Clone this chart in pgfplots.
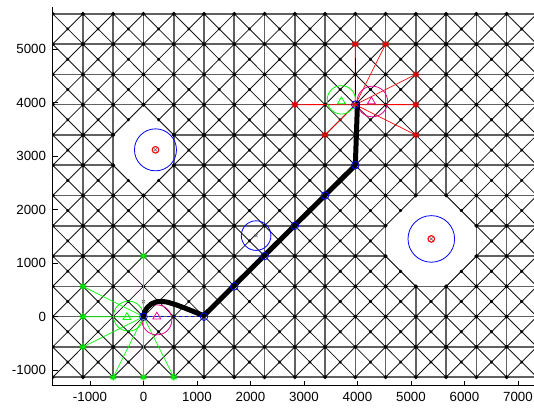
\documentclass[border=0pt]{standalone}
\usepackage{fontspec}
\setmainfont{Liberation Sans}
\usepackage{pgfplots}
\pgfplotsset{compat=1.18}
\pgfplotsset{
  hv/.style={no markers, line width=1.6pt, color=black!62},
  dg/.style={no markers, line width=0.85pt, color=black!92},
  mainnode/.style={only marks, mark=*, mark size=1.8pt, color=black},
  cennode/.style={only marks, mark=*, mark size=1.3pt, color=black},
}
\begin{document}
\begin{tikzpicture}
\begin{axis}[
  scale only axis, width=481.3pt, height=379pt,
  xmin=-1697.06, xmax=7300, ymin=-1290, ymax=5790,
  axis x line*=bottom, axis y line*=left,
  axis line style={black, line width=0.8pt},
  axis on top=true,
  clip marker paths=true,
  xtick={-1000,0,1000,2000,3000,4000,5000,6000,7000},
  ytick={-1000,0,1000,2000,3000,4000,5000},
  xticklabels={-1000,0,1000,2000,3000,4000,5000,6000,7000},
  yticklabels={-1000,0,1000,2000,3000,4000,5000},
  tick align=inside, major tick length=5pt,
  tick style={black, line width=0.6pt},
  ticklabel style={font=\fontsize{13.3}{15}\selectfont},
  xticklabel style={inner sep=0pt, anchor=north, yshift=-6.5pt},
  yticklabel style={inner sep=0pt, anchor=east, xshift=-6.5pt},
  unbounded coords=jump,
]
% ---- grid: horizontal and vertical lines
\pgfplotsinvokeforeach{-1131.37,-565.69,0,565.69,1131.37,1697.06,2262.74,2828.43,3394.11,3959.80,4525.48,5091.17,5656.85}{
  \addplot[hv] coordinates {(-1697.06,#1) (7353.91,#1)};
}
\pgfplotsinvokeforeach{-1697.06,-1131.37,-565.69,0,565.69,1131.37,1697.06,2262.74,2828.43,3394.11,3959.80,4525.48,5091.17,5656.85,6222.54,6788.23,7353.91}{
  \addplot[hv] coordinates {(#1,-1131.37) (#1,5656.85)};
}
% ---- grid: diagonals x-y = const
\addplot[dg] coordinates {
(-1697.06,5091.17) (-1131.37,5656.85) (nan,nan)
(-1697.06,4525.48) (-565.69,5656.85) (nan,nan)
(-1697.06,3959.80) (0,5656.85) (nan,nan)
(-1697.06,3394.11) (565.69,5656.85) (nan,nan)
(-1697.06,2828.43) (1131.37,5656.85) (nan,nan)
(-1697.06,2262.74) (1697.06,5656.85) (nan,nan)
(-1697.06,1697.06) (2262.74,5656.85) (nan,nan)
(-1697.06,1131.37) (2828.43,5656.85) (nan,nan)
(-1697.06,565.69) (3394.11,5656.85) (nan,nan)
(-1697.06,0) (3959.80,5656.85) (nan,nan)
(-1697.06,-565.69) (4525.48,5656.85) (nan,nan)
(-1697.06,-1131.37) (5091.17,5656.85) (nan,nan)
(-1131.37,-1131.37) (5656.85,5656.85) (nan,nan)
(-565.69,-1131.37) (6222.54,5656.85) (nan,nan)
(0,-1131.37) (6788.23,5656.85) (nan,nan)
(565.69,-1131.37) (7353.91,5656.85) (nan,nan)
(1131.37,-1131.37) (7353.91,5091.17) (nan,nan)
(1697.06,-1131.37) (7353.91,4525.48) (nan,nan)
(2262.74,-1131.37) (7353.91,3959.80) (nan,nan)
(2828.43,-1131.37) (7353.91,3394.11) (nan,nan)
(3394.11,-1131.37) (7353.91,2828.43) (nan,nan)
(3959.80,-1131.37) (7353.91,2262.74) (nan,nan)
(4525.48,-1131.37) (7353.91,1697.06) (nan,nan)
(5091.17,-1131.37) (7353.91,1131.37) (nan,nan)
(5656.85,-1131.37) (7353.91,565.69) (nan,nan)
(6222.54,-1131.37) (7353.91,0) (nan,nan)
(6788.23,-1131.37) (7353.91,-565.69)
};
% ---- grid: diagonals x+y = const
\addplot[dg] coordinates {
(-1697.06,-565.69) (-1131.37,-1131.37) (nan,nan)
(-1697.06,0) (-565.69,-1131.37) (nan,nan)
(-1697.06,565.69) (0,-1131.37) (nan,nan)
(-1697.06,1131.37) (565.69,-1131.37) (nan,nan)
(-1697.06,1697.06) (1131.37,-1131.37) (nan,nan)
(-1697.06,2262.74) (1697.06,-1131.37) (nan,nan)
(-1697.06,2828.43) (2262.74,-1131.37) (nan,nan)
(-1697.06,3394.11) (2828.43,-1131.37) (nan,nan)
(-1697.06,3959.80) (3394.11,-1131.37) (nan,nan)
(-1697.06,4525.48) (3959.80,-1131.37) (nan,nan)
(-1697.06,5091.17) (4525.48,-1131.37) (nan,nan)
(-1697.06,5656.85) (5091.17,-1131.37) (nan,nan)
(-1131.37,5656.85) (5656.85,-1131.37) (nan,nan)
(-565.69,5656.85) (6222.54,-1131.37) (nan,nan)
(0,5656.85) (6788.23,-1131.37) (nan,nan)
(565.69,5656.85) (7353.91,-1131.37) (nan,nan)
(1131.37,5656.85) (7353.91,-565.69) (nan,nan)
(1697.06,5656.85) (7353.91,0) (nan,nan)
(2262.74,5656.85) (7353.91,565.69) (nan,nan)
(2828.43,5656.85) (7353.91,1131.37) (nan,nan)
(3394.11,5656.85) (7353.91,1697.06) (nan,nan)
(3959.80,5656.85) (7353.91,2262.74) (nan,nan)
(4525.48,5656.85) (7353.91,2828.43) (nan,nan)
(5091.17,5656.85) (7353.91,3394.11) (nan,nan)
(5656.85,5656.85) (7353.91,3959.80) (nan,nan)
(6222.54,5656.85) (7353.91,4525.48) (nan,nan)
(6788.23,5656.85) (7353.91,5091.17)
};
% ---- grid nodes
\pgfplotsinvokeforeach{-1697.06,-1131.37,-565.69,0,565.69,1131.37,1697.06,2262.74,2828.43,3394.11,3959.80,4525.48,5091.17,5656.85,6222.54,6788.23,7353.91}{
  \addplot[mainnode] coordinates {(#1,-1131.37) (#1,-565.69) (#1,0) (#1,565.69) (#1,1131.37) (#1,1697.06) (#1,2262.74) (#1,2828.43) (#1,3394.11) (#1,3959.80) (#1,4525.48) (#1,5091.17) (#1,5656.85)};
}
\pgfplotsinvokeforeach{-1414.21,-848.53,-282.84,282.84,848.53,1414.21,1979.90,2545.58,3111.27,3676.96,4242.64,4808.33,5374.01,5939.70,6505.38,7071.07}{
  \addplot[cennode] coordinates {(#1,-848.53) (#1,-282.84) (#1,282.84) (#1,848.53) (#1,1414.21) (#1,1979.90) (#1,2545.58) (#1,3111.27) (#1,3676.96) (#1,4242.64) (#1,4808.33) (#1,5374.01)};
}
% ---- removed regions around the obstacles
\addplot[fill=white, draw=none] coordinates {(0,3959.80) (-565.69,3394.11) (-565.69,2828.43) (0,2262.74) (565.69,2828.43) (565.69,3394.11)} -- cycle;
\addplot[fill=white, draw=none] coordinates {(4525.48,1131.37) (5091.17,565.69) (5656.85,565.69) (6222.54,1131.37) (6222.54,1697.06) (5656.85,2262.74) (5091.17,2262.74) (4525.48,1697.06)} -- cycle;
\addplot[hv] coordinates {(-565.69,3394.11) (-565.69,2828.43) (nan,nan) (565.69,2828.43) (565.69,3394.11) (nan,nan)
 (4525.48,1131.37) (4525.48,1697.06) (nan,nan) (6222.54,1131.37) (6222.54,1697.06) (nan,nan)
 (5091.17,565.69) (5656.85,565.69) (nan,nan) (5091.17,2262.74) (5656.85,2262.74)};
\addplot[dg] coordinates {(565.69,3394.11) (0,3959.80) (-565.69,3394.11) (nan,nan) (-565.69,2828.43) (0,2262.74) (565.69,2828.43) (nan,nan)
 (4525.48,1131.37) (5091.17,565.69) (nan,nan) (5656.85,565.69) (6222.54,1131.37) (nan,nan)
 (6222.54,1697.06) (5656.85,2262.74) (nan,nan) (5091.17,2262.74) (4525.48,1697.06)};
\addplot[mainnode] coordinates {(0,3959.80) (-565.69,3394.11) (-565.69,2828.43) (0,2262.74) (565.69,2828.43) (565.69,3394.11)
 (4525.48,1131.37) (5091.17,565.69) (5656.85,565.69) (6222.54,1131.37) (6222.54,1697.06) (5656.85,2262.74) (5091.17,2262.74) (4525.48,1697.06)};
\addplot[cennode] coordinates {(-282.84,3676.96) (282.84,3676.96) (-282.84,2545.58) (282.84,2545.58)
 (4808.33,848.53) (5939.70,848.53) (5939.70,1979.90) (4808.33,1979.90)};
% ---- obstacles
\addplot[only marks, mark=o, mark size=21pt, blue, line width=0.8pt] coordinates {(224,3116)};
\addplot[only marks, mark=o, mark size=23.3pt, blue, line width=0.8pt] coordinates {(5380,1452)};
\addplot[only marks, mark=o, mark size=3.3pt, red, line width=1.1pt] coordinates {(224,3116) (5380,1452)};
\addplot[only marks, mark=x, mark size=2.3pt, black!60, line width=0.6pt] coordinates {(224,3116) (5380,1452) (2105,1514) (0,280)};
\addplot[only marks, mark=o, mark size=14.8pt, blue, line width=0.8pt] coordinates {(2105,1514)};
% ---- start neighbourhood (green)
\addplot[no markers, green, line width=0.7pt] coordinates {
(0,0) (0,1131.37) (nan,nan) (0,0) (-1131.37,565.69) (nan,nan) (0,0) (-1131.37,0) (nan,nan)
(0,0) (-1131.37,-565.69) (nan,nan) (0,0) (-565.69,-1131.37) (nan,nan) (0,0) (0,-1131.37) (nan,nan)
(0,0) (565.69,-1131.37)};
\addplot[only marks, mark=*, mark size=3pt, green, opacity=0.35] coordinates {(0,1131.37) (-1131.37,565.69) (-1131.37,0) (-1131.37,-565.69) (-565.69,-1131.37) (0,-1131.37) (565.69,-1131.37)};
\addplot[only marks, mark=asterisk, mark size=3.5pt, green, line width=0.8pt] coordinates {(0,1131.37) (-1131.37,565.69) (-1131.37,0) (-1131.37,-565.69) (-565.69,-1131.37) (0,-1131.37) (565.69,-1131.37)};
% ---- goal neighbourhood (red)
\addplot[no markers, red, line width=0.7pt] coordinates {
(3959.80,3959.80) (3959.80,5091.17) (nan,nan) (3959.80,3959.80) (4525.48,5091.17) (nan,nan)
(3959.80,3959.80) (5091.17,4525.48) (nan,nan) (3959.80,3959.80) (5091.17,3959.80) (nan,nan)
(3959.80,3959.80) (5091.17,3394.11) (nan,nan) (3959.80,3959.80) (3394.11,3394.11) (nan,nan)
(3959.80,3959.80) (2828.43,3959.80)};
\addplot[no markers, red, line width=1.6pt] coordinates {(3034,3960) (3394,3960) (nan,nan) (4558,3960) (4902,3960)};
\addplot[no markers, black, line width=1.6pt] coordinates {(3960,4140) (3960,4830)};
\addplot[only marks, mark=*, mark size=3pt, red, opacity=0.35] coordinates {(3959.80,5091.17) (4525.48,5091.17) (5091.17,4525.48) (5091.17,3959.80) (5091.17,3394.11) (3394.11,3394.11) (2828.43,3959.80)};
\addplot[only marks, mark=asterisk, mark size=3.5pt, red, line width=0.8pt] coordinates {(3959.80,5091.17) (4525.48,5091.17) (5091.17,4525.48) (5091.17,3959.80) (5091.17,3394.11) (3394.11,3394.11) (2828.43,3959.80)};
% ---- robot footprints
\addplot[only marks, mark=o, mark size=15pt, green, line width=0.8pt] coordinates {(-280,10)};
\addplot[only marks, mark=o, mark size=15pt, magenta, line width=0.8pt] coordinates {(250,-60)};
\addplot[only marks, mark=o, mark size=14.2pt, green, line width=0.8pt] coordinates {(3699,4050)};
\addplot[only marks, mark=o, mark size=15.3pt, magenta, line width=0.8pt] coordinates {(4278,4019)};
\addplot[only marks, mark=triangle, mark size=4.5pt, green, line width=0.8pt] coordinates {(-310,-10) (3700,4020)};
\addplot[only marks, mark=triangle, mark size=4.5pt, magenta, line width=0.8pt] coordinates {(250,0) (4260,4020)};
% ---- planned path (blue) and executed path (black)
\addplot[no markers, blue, dashed, line width=0.8pt] coordinates {(0,0) (1131.37,0)};
\addplot[no markers, black, line width=5pt, line cap=round, line join=round] coordinates {
(0,0) (20,90) (70,170) (150,240) (250,280) (350,285) (450,270) (600,225) (800,150) (950,90) (1060,45) (1120,25) (1170,60) (3960,2828) (4000,3990)};
\addplot[only marks, mark=o, mark size=3.8pt, blue, line width=0.8pt] coordinates {(0,0) (1131.37,0) (1697.06,565.69) (2262.74,1131.37) (2828.43,1697.06) (3394.11,2262.74) (3959.80,2828.43) (3959.80,3959.80)};
\addplot[only marks, mark=asterisk, mark size=3.5pt, red, line width=0.8pt] coordinates {(3959.80,3959.80)};
\end{axis}
\pgfresetboundingbox
\path[use as bounding box] (-52.7pt,-22.3pt) rectangle (481.3pt,385.7pt);
\end{tikzpicture}
\end{document}
